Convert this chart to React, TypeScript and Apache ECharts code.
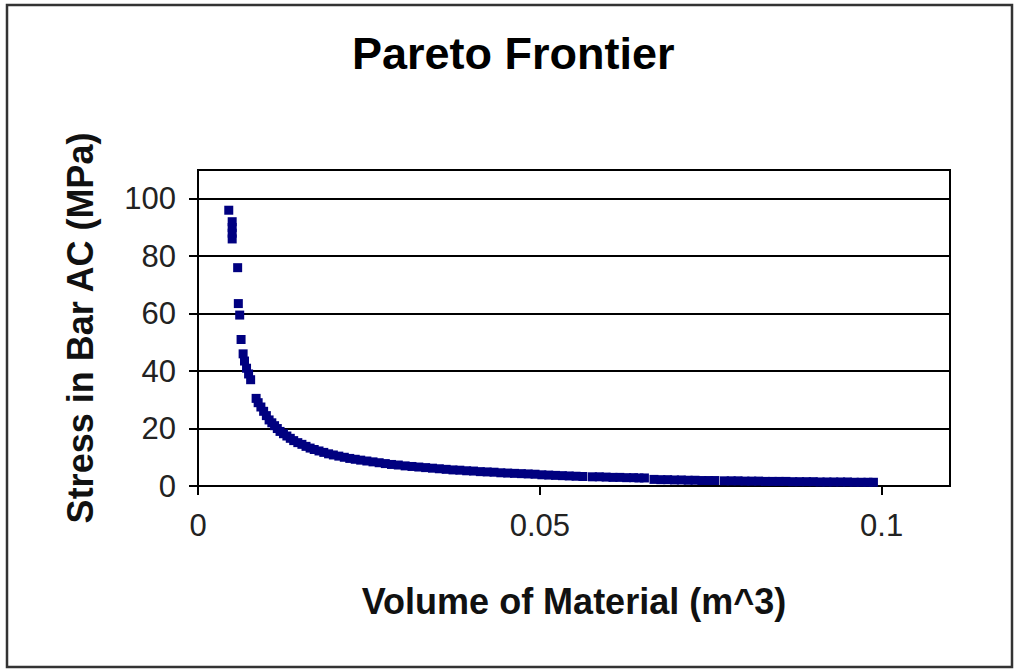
import React, { useEffect, useRef } from "react";
import * as echarts from "echarts";

const volume = [
  0.0045, 0.005, 0.005, 0.005, 0.005, 0.0058, 0.0059, 0.0061, 0.0063, 0.0066,
  0.0068, 0.0071, 0.0074, 0.0077, 0.0085, 0.0088, 0.0092, 0.0096, 0.01, 0.0104,
  0.0108, 0.0112, 0.0116, 0.012, 0.0125, 0.013, 0.0135, 0.014, 0.0146, 0.0152,
  0.0158, 0.0164, 0.017, 0.0177, 0.0184, 0.0191, 0.0198, 0.0206, 0.0214, 0.0222,
  0.023, 0.0238, 0.0247, 0.0256, 0.0265, 0.0274, 0.0283, 0.0293, 0.0303, 0.0313,
  0.0323, 0.0333, 0.0343, 0.0353, 0.0363, 0.0373, 0.0383, 0.0393, 0.0403, 0.0413,
  0.0423, 0.0433, 0.0443, 0.0453, 0.0463, 0.0473, 0.0483, 0.0493, 0.0503, 0.0513,
  0.0523, 0.0533, 0.0543, 0.0553, 0.0563, 0.0577, 0.0587, 0.0597, 0.0607, 0.0617,
  0.0627, 0.0637, 0.0645, 0.0653, 0.0667, 0.0677, 0.0687, 0.0697, 0.0707, 0.0717,
  0.0727, 0.0737, 0.0747, 0.0756, 0.077, 0.078, 0.079, 0.08, 0.081, 0.082,
  0.083, 0.084, 0.085, 0.086, 0.087, 0.088, 0.089, 0.09, 0.091, 0.092,
  0.093, 0.094, 0.095, 0.096, 0.097, 0.098, 0.0988,
];

const stress = [
  96, 92, 90, 88, 86, 76, 63.5, 59.5, 51, 46,
  43.5, 41, 39, 37, 30.5, 29, 27.5, 26, 24.5, 23,
  22, 21, 20, 19, 18.2, 17.4, 16.6, 15.8, 15.1, 14.5,
  13.8, 13.2, 12.7, 12.2, 11.7, 11.2, 10.8, 10.4, 10.0, 9.6,
  9.3, 9.0, 8.7, 8.4, 8.1, 7.8, 7.5, 7.3, 7.0, 6.8,
  6.6, 6.4, 6.2, 6.0, 5.8, 5.6, 5.5, 5.3, 5.2, 5.0,
  4.9, 4.8, 4.6, 4.5, 4.4, 4.3, 4.2, 4.1, 3.9, 3.8,
  3.7, 3.6, 3.5, 3.4, 3.3, 3.2, 3.2, 3.1, 3.0, 3.0,
  2.9, 2.9, 2.8, 2.8, 2.3, 2.2, 2.2, 2.1, 2.1, 2.0,
  2.0, 1.9, 1.9, 1.9, 1.8, 1.8, 1.8, 1.7, 1.7, 1.7,
  1.6, 1.6, 1.6, 1.6, 1.5, 1.5, 1.5, 1.5, 1.4, 1.4,
  1.4, 1.4, 1.4, 1.3, 1.3, 1.3, 1.3,
];

const xTickValues = [0, 0.05, 0.1];
const yTickValues = [0, 20, 40, 60, 80, 100];

const FONT = "'Liberation Sans', Arial, sans-serif";

export default function App() {
  const ref = useRef<HTMLDivElement>(null);
  useEffect(() => {
    const chart = echarts.init(ref.current!, null, { renderer: "svg" });
    chart.setOption({
      animation: false,
      backgroundColor: "#fff",
      textStyle: { fontFamily: FONT },
      title: {
        text: "Pareto Frontier",
        left: 352,
        top: 31,
        padding: 0,
        textStyle: { fontSize: 45, fontWeight: "bold", color: "#000", fontFamily: FONT },
      },
      graphic: [
        {
          type: "rect",
          silent: true,
          shape: { x: 7, y: 5, width: 1005, height: 662 },
          style: { fill: "none", stroke: "#333", lineWidth: 2.5 },
        },
      ],
      grid: {
        left: 198,
        top: 170,
        width: 752,
        height: 316,
        show: true,
        borderColor: "#000",
        borderWidth: 2,
        backgroundColor: "transparent",
      },
      xAxis: {
        type: "value",
        min: 0,
        max: 0.11,
        interval: 0.05,
        name: "Volume of Material (m^3)",
        nameLocation: "middle",
        nameGap: 97,
        nameTextStyle: { fontSize: 36, fontWeight: "bold", color: "#111", fontFamily: FONT },
        axisLine: { show: true, onZero: false, lineStyle: { color: "#000", width: 2 } },
        axisTick: { show: true, length: 9, customValues: xTickValues, lineStyle: { color: "#000", width: 2 } },
        axisLabel: {
          fontSize: 31,
          color: "#222",
          margin: 24,
          customValues: xTickValues,
          fontFamily: FONT,
        },
        splitLine: { show: false },
      },
      yAxis: {
        type: "value",
        min: 0,
        max: 110,
        interval: 20,
        name: "Stress in Bar AC (MPa)",
        nameLocation: "middle",
        nameGap: 100,
        nameTextStyle: { fontSize: 36, fontWeight: "bold", color: "#111", fontFamily: FONT },
        axisLine: { show: true, lineStyle: { color: "#000", width: 2 } },
        axisTick: { show: true, length: 9, customValues: yTickValues, lineStyle: { color: "#000", width: 2 } },
        axisLabel: {
          fontSize: 31,
          color: "#222",
          margin: 22,
          customValues: yTickValues,
          fontFamily: FONT,
        },
        splitLine: { show: true, lineStyle: { color: "#000", width: 2 } },
      },
      series: [
        {
          type: "scatter",
          symbol: "rect",
          symbolSize: 9,
          itemStyle: { color: "#000080", opacity: 1 },
          data: volume.map((v, i) => [v, stress[i]]),
        },
      ],
    });
    return () => chart.dispose();
  }, []);
  return (
    <div
      ref={ref}
      style={{ position: "absolute", left: 0, top: 0, width: 1015, height: 672, background: "#fff" }}
    />
  );
}
